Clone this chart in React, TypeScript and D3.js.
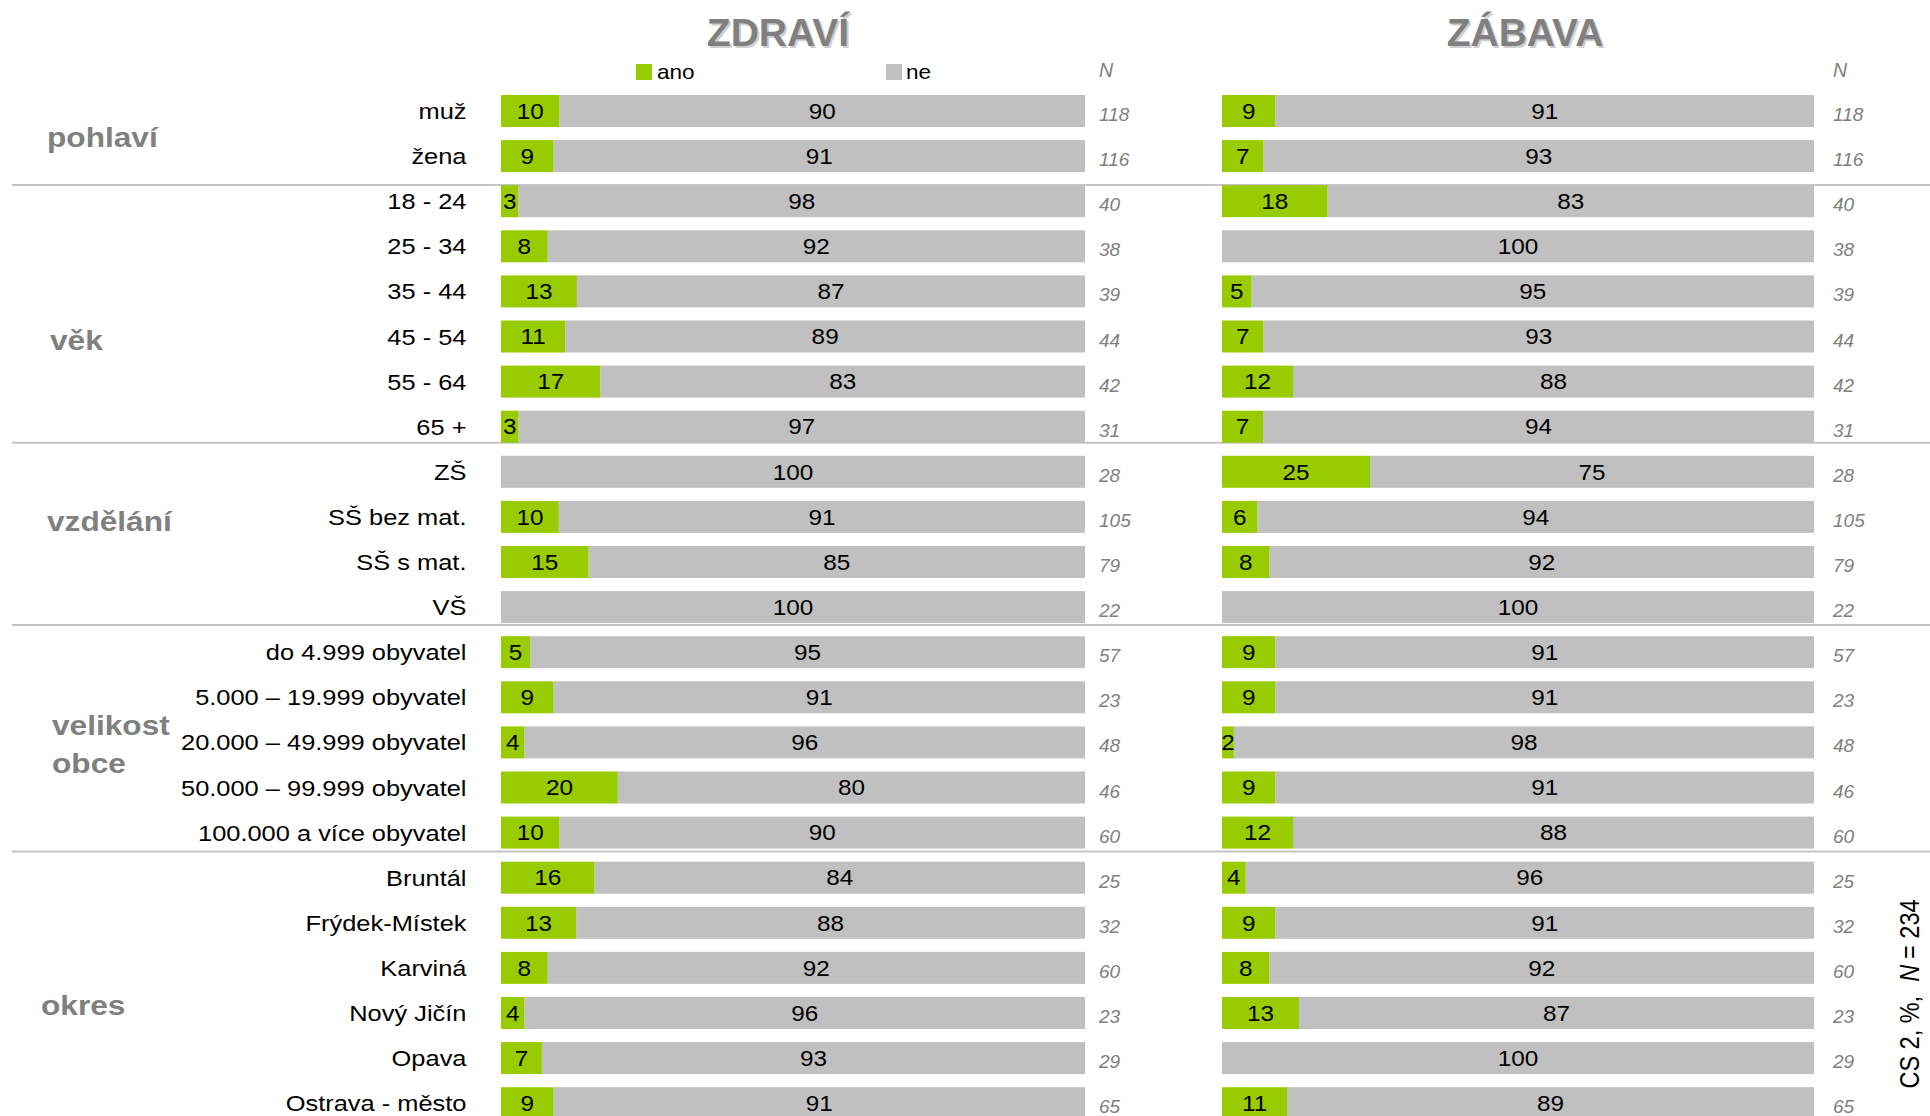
import React from 'react';
import * as d3 from 'd3';

const categories = [
  'muž', 'žena',
  '18 - 24', '25 - 34', '35 - 44', '45 - 54', '55 - 64', '65 +',
  'ZŠ', 'SŠ bez mat.', 'SŠ s mat.', 'VŠ',
  'do 4.999 obyvatel', '5.000 – 19.999 obyvatel', '20.000 – 49.999 obyvatel', '50.000 – 99.999 obyvatel', '100.000 a více obyvatel',
  'Bruntál', 'Frýdek-Místek', 'Karviná', 'Nový Jičín', 'Opava', 'Ostrava - město',
];

const zdraviAno = [10, 9, 3, 8, 13, 11, 17, 3, 0, 10, 15, 0, 5, 9, 4, 20, 10, 16, 13, 8, 4, 7, 9];
const zdraviNe = [90, 91, 98, 92, 87, 89, 83, 97, 100, 91, 85, 100, 95, 91, 96, 80, 90, 84, 88, 92, 96, 93, 91];
const zabavaAno = [9, 7, 18, 0, 5, 7, 12, 7, 25, 6, 8, 0, 9, 9, 2, 9, 12, 4, 9, 8, 13, 0, 11];
const zabavaNe = [91, 93, 83, 100, 95, 93, 88, 94, 75, 94, 92, 100, 91, 91, 98, 91, 88, 96, 91, 92, 87, 100, 89];
const nValues = [118, 116, 40, 38, 39, 44, 42, 31, 28, 105, 79, 22, 57, 23, 48, 46, 60, 25, 32, 60, 23, 29, 65];

const groupNames = [['pohlaví'], ['věk'], ['vzdělání'], ['velikost', 'obce'], ['okres']];
const groupSizes = [2, 6, 4, 5, 6];

const panelTitles = ['ZDRAVÍ', 'ZÁBAVA'];
const legendLabels = ['ano', 'ne'];
const noteText = ['CS 2, %,', 'N', '= 234'];

// layout (not data)
const W = 1930;
const H = 1116;
const FONT = '"Liberation Sans", Arial, Helvetica, sans-serif';
const GREEN = '#99cc00';
const GRAY = '#c0c0c0';
const LABEL_GRAY = '#808080';
const STRETCH = 1.13;
const groupLabelPos = [
  { x: 47, y: 146.5 },
  { x: 50, y: 350 },
  { x: 47, y: 531 },
  { x: 52, y: 735 },
  { x: 41, y: 1015 },
];
const sepOffsets = [29, 16, 18, 19];

export default function App() {
  const y = d3.scalePoint<string>().domain(categories).range([111, 111 + 45.1 * 22]);
  const barH = 32;

  const panels = [
    { title: panelTitles[0], ano: zdraviAno, ne: zdraviNe, x: d3.scaleLinear().domain([0, 1]).range([501, 1085]), nX: 1099, titleX: 778 },
    { title: panelTitles[1], ano: zabavaAno, ne: zabavaNe, x: d3.scaleLinear().domain([0, 1]).range([1222, 1814]), nX: 1833, titleX: 1525 },
  ];

  const seps: number[] = [];
  let acc = 0;
  groupSizes.forEach((s, i) => {
    acc += s;
    if (i < groupSizes.length - 1) {
      seps.push((y(categories[acc - 1]) as number) + sepOffsets[i]);
    }
  });

  return (
    <svg width={W} height={H} style={{ position: 'absolute', left: 0, top: 0, background: '#fff' }} fontFamily={FONT}>
      <rect x={0} y={0} width={W} height={H} fill="#fff" />
      {seps.map((sy, i) => (
        <line key={'sep' + i} x1={12} x2={W} y1={sy} y2={sy} stroke="#c4c4c4" strokeWidth={2} />
      ))}

      {groupNames.map((lines, gi) => (
        <g key={'g' + gi}>
          {lines.map((ln, li) => (
            <text key={li} transform={`translate(${groupLabelPos[gi].x},${groupLabelPos[gi].y + li * 38}) scale(${STRETCH},1)`}
              fontSize={28} fontWeight="bold" fill={LABEL_GRAY}>{ln}</text>
          ))}
        </g>
      ))}

      {categories.map((c) => (
        <text key={'c' + c} transform={`translate(466.5,${(y(c) as number) + 8}) scale(${STRETCH},1)`}
          textAnchor="end" fontSize={22.5} fill="#000">{c}</text>
      ))}

      <rect x={636} y={64} width={16} height={16} fill={GREEN} />
      <text transform={`translate(657,79) scale(${STRETCH},1)`} fontSize={20} fill="#000">{legendLabels[0]}</text>
      <rect x={886} y={64} width={16} height={16} fill={GRAY} />
      <text transform={`translate(906,79) scale(${STRETCH},1)`} fontSize={20} fill="#000">{legendLabels[1]}</text>

      {panels.map((p, pi) => (
        <g key={'p' + pi}>
          <text x={p.titleX + 2} y={48} textAnchor="middle" fontSize={39} fontWeight="bold" fill="#cfcfcf">{p.title}</text>
          <text x={p.titleX} y={46} textAnchor="middle" fontSize={39} fontWeight="bold" fill={LABEL_GRAY}>{p.title}</text>
          <text x={p.nX} y={77} fontSize={19.5} fontStyle="italic" fill={LABEL_GRAY}>N</text>
          {categories.map((c, i) => {
            const cy = y(c) as number;
            const tot = p.ano[i] + p.ne[i];
            const f = p.ano[i] / tot;
            const x0 = p.x(0);
            const xm = p.x(f);
            const x1 = p.x(1);
            return (
              <g key={c}>
                <rect x={xm} y={cy - barH / 2} width={x1 - xm} height={barH} fill={GRAY} />
                {p.ano[i] > 0 && (
                  <rect x={x0} y={cy - barH / 2} width={xm - x0} height={barH} fill={GREEN} />
                )}
                {p.ano[i] > 0 && (
                  <text transform={`translate(${(x0 + xm) / 2},${cy + 7.7}) scale(${STRETCH},1)`} textAnchor="middle" fontSize={21.5} fill="#000">{p.ano[i]}</text>
                )}
                <text transform={`translate(${(xm + x1) / 2},${cy + 7.7}) scale(${STRETCH},1)`} textAnchor="middle" fontSize={21.5} fill="#000">{p.ne[i]}</text>
                <text x={p.nX} y={cy + 10} fontSize={19} fontStyle="italic" fill={LABEL_GRAY}>{nValues[i]}</text>
              </g>
            );
          })}
        </g>
      ))}

      <text transform="translate(1919,994) rotate(-90) scale(1,1.2)" textAnchor="middle" fontSize={23.5} fill="#000">
        {noteText[0]}
        <tspan dx={14} fontStyle="italic">{noteText[1]}</tspan>
        <tspan dx={6}>{noteText[2]}</tspan>
      </text>
    </svg>
  );
}
